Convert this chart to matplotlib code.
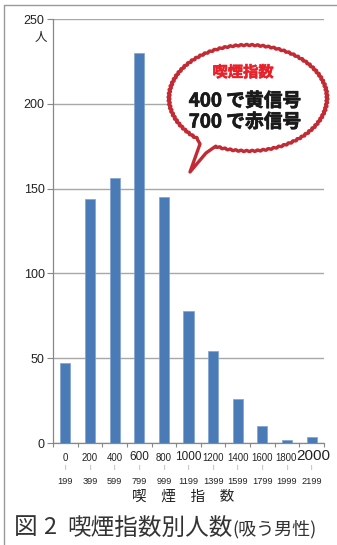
import numpy as np
import matplotlib
matplotlib.use("Agg")
import matplotlib.pyplot as plt
import matplotlib.patheffects as pe
from matplotlib.patches import Polygon

plt.rcParams['font.family'] = ['Noto Sans CJK JP', 'DejaVu Sans']

# smoking index bins (lower / upper bound) and number of male smokers
bin_low = ["0", "200", "400", "600", "800", "1000", "1200", "1400", "1600", "1800", "2000"]
bin_high = ["199", "399", "599", "799", "999", "1199", "1399", "1599", "1799", "1999", "2199"]
counts = [47, 144, 156, 230, 145, 78, 54, 26, 10, 2, 3.5]
emphasized = ["600", "1000"]

y_ticks = [0, 50, 100, 150, 200, 250]

NUM_FONT = ['Liberation Sans', 'DejaVu Sans']

W, H = 337, 545
fig = plt.figure(figsize=(W / 100, H / 100), dpi=100)
ax = fig.add_axes([53 / W, 1 - 443 / H, 271 / W, 424 / H])

x = np.arange(len(counts))
ax.bar(x, counts, width=0.41, color='#4a7bb7', edgecolor='#7fa3cf', linewidth=0.5, zorder=3)

ax.set_xlim(-0.5, len(counts) - 0.5)
ax.set_ylim(0, 250)
ax.set_yticks(y_ticks)
ax.set_yticklabels([str(v) for v in y_ticks], fontsize=9, family=NUM_FONT, color='#222222')
ax.tick_params(axis='y', length=4, width=0.8, color='#888888', pad=2)
ax.grid(axis='y', color='#a8a8a8', linewidth=1.0, zorder=0)

ax.set_xticks(x)
ax.set_xticklabels([])
ax.set_xticks(np.arange(len(counts) + 1) - 0.5, minor=True)
ax.tick_params(axis='x', which='major', length=0)
ax.tick_params(axis='x', which='minor', length=3, width=0.8, color='#888888', direction='out')

for side in ['top', 'right']:
    ax.spines[side].set_visible(False)
for side in ['left', 'bottom']:
    ax.spines[side].set_color('#888888')
    ax.spines[side].set_linewidth(0.9)

# two-line bin labels under each bar
for i, (lo, hi) in enumerate(zip(bin_low, bin_high)):
    if lo == bin_low[-1]:
        size, dx, dy = 11, 2, -13
    elif lo in emphasized:
        size, dx, dy = 8.5, 0, -14
    else:
        size, dx, dy = 6.9, 0, -15
    if lo == "1800":
        dx = -1
    ax.annotate(lo, (i, 0), xycoords=('data', 'axes fraction'), xytext=(dx, dy),
                textcoords='offset pixels', ha='center', va='center',
                fontsize=size, family=NUM_FONT, color='#222222')
    ax.annotate("|", (i, 0), xycoords=('data', 'axes fraction'), xytext=(0, -25),
                textcoords='offset pixels', ha='center', va='center',
                fontsize=4.5, family=NUM_FONT, color='#999999')
    ax.annotate(hi, (i, 0), xycoords=('data', 'axes fraction'), xytext=(0, -38),
                textcoords='offset pixels', ha='center', va='center',
                fontsize=6.7, family=NUM_FONT, color='#222222')

# overlay in pixel coordinates for frame, titles and speech bubble
ov = fig.add_axes([0, 0, 1, 1], facecolor='none')
ov.set_xlim(0, W)
ov.set_ylim(H, 0)
ov.axis('off')

ov.plot([4, 4, W], [H, 5, 5], color='#999999', linewidth=1.0)

ov.text(41, 37, "人", ha='center', va='center', fontsize=9, color='#222222')
ov.text(183, 497, "喫　煙　指　数", ha='center', va='center', fontsize=10.5, color='#222222')
ov.text(14, 528, "図", ha='left', va='center', fontsize=17, color='#333333')
ov.text(43, 528, "2", ha='left', va='center', fontsize=17, color='#333333')
ov.text(67, 528, "喫煙指数別人数", ha='left', va='center', fontsize=17, color='#333333')
ov.text(232, 529, "(吸う男性)", ha='left', va='center', fontsize=13, color='#333333')

# speech bubble with a ragged outline and a tail at the lower left
cx, cy, a, b = 248, 98, 79, 53
t = np.linspace(0, 2 * np.pi, 600)
r = 1 + 0.012 * np.sin(90 * t)
px = cx + a * r * np.cos(t)
py = cy + b * r * np.sin(t)
pts = list(zip(px, py))
i1 = np.searchsorted(t, 2.0)
i2 = np.searchsorted(t, 2.25)
pts = pts[:i1] + [(206, 153), (190, 172), (200, 144)] + pts[i2:]
ov.add_patch(Polygon(pts, closed=True, facecolor='white', edgecolor='#c42a33',
                     linewidth=2.4, joinstyle='round', zorder=5))

red_heavy = [pe.withStroke(linewidth=0.4, foreground='#e8202a')]
black_heavy = [pe.withStroke(linewidth=0.5, foreground='#1a1a1a')]
ov.text(243, 72, "喫煙指数", ha='center', va='center', fontsize=11,
        fontweight='bold', color='#e8202a', zorder=6, path_effects=red_heavy)
ov.text(245, 101, "400 で黄信号", ha='center', va='center', fontsize=13.5,
        fontweight='bold', color='#1a1a1a', zorder=6, path_effects=black_heavy)
ov.text(245, 122, "700 で赤信号", ha='center', va='center', fontsize=13.5,
        fontweight='bold', color='#1a1a1a', zorder=6, path_effects=black_heavy)

fig.savefig("out.png", dpi=100)
